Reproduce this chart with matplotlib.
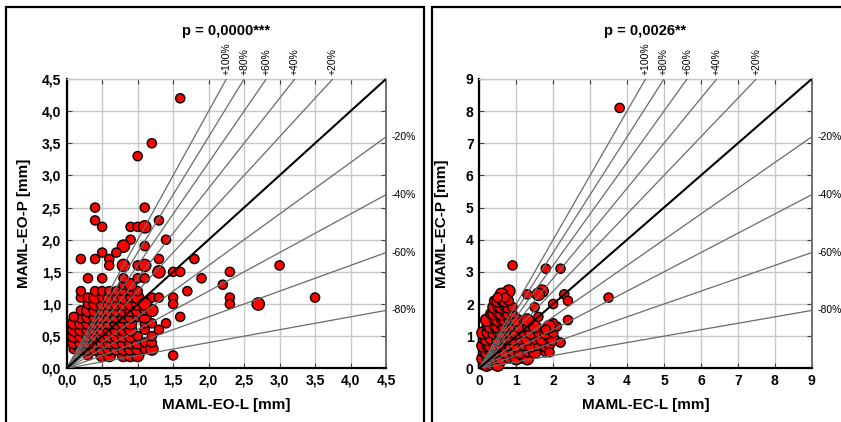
import matplotlib
matplotlib.use("Agg")
import matplotlib.pyplot as plt
from matplotlib.patches import Rectangle

plt.rcParams['font.family'] = ['Liberation Sans', 'DejaVu Sans']

# ---------------- data ----------------
eo_titles = "p = 0,0000***"
ec_titles = "p = 0,0026**"
eo_xlabel = "MAML-EO-L [mm]"
eo_ylabel = "MAML-EO-P [mm]"
ec_xlabel = "MAML-EC-L [mm]"
ec_ylabel = "MAML-EC-P [mm]"

eo_ticks = [0.0, 0.5, 1.0, 1.5, 2.0, 2.5, 3.0, 3.5, 4.0, 4.5]
eo_ticklabels = ["0,0", "0,5", "1,0", "1,5", "2,0", "2,5", "3,0", "3,5", "4,0", "4,5"]
ec_ticks = [0, 1, 2, 3, 4, 5, 6, 7, 8, 9]
ec_ticklabels = ["0", "1", "2", "3", "4", "5", "6", "7", "8", "9"]

pos_pct = [100, 80, 60, 40, 20]
neg_pct = [20, 40, 60, 80]

# EO panel: sparse points (x, y, big flag)
eo_x = [1.6, 1.0, 1.2, 0.4, 0.4, 0.5, 1.1, 1.3, 0.9, 1.0, 1.1, 0.9, 1.4, 0.8, 1.1,
        0.2, 0.4, 0.6, 1.3, 1.8, 0.5, 0.7, 0.6, 0.8, 1.0, 1.1, 0.3, 0.5, 0.8, 1.0,
        1.1, 1.3, 1.5, 1.6, 1.9, 2.3, 3.0, 2.2, 2.3, 2.3, 2.7, 3.5, 1.5, 1.5, 1.7,
        1.6, 1.4, 1.5, 1.3, 1.2, 1.2, 1.2, 1.2, 1.3, 1.1, 0.1]
eo_y = [4.2, 3.3, 3.5, 2.5, 2.3, 2.2, 2.5, 2.3, 2.2, 2.2, 2.2, 2.0, 2.0, 1.9, 1.9,
        1.7, 1.7, 1.7, 1.7, 1.7, 1.8, 1.8, 1.6, 1.6, 1.6, 1.6, 1.4, 1.4, 1.4, 1.4,
        1.4, 1.5, 1.5, 1.5, 1.4, 1.5, 1.6, 1.3, 1.1, 1.0, 1.0, 1.1, 1.1, 1.0, 1.2,
        0.8, 0.7, 0.2, 0.6, 0.3, 0.4, 0.5, 0.9, 1.1, 1.0, 0.8]
eo_big = [0, 0, 0, 0, 0, 0, 0, 0, 0, 0, 1, 0, 0, 1, 0,
          0, 0, 0, 0, 0, 0, 0, 0, 1, 0, 1, 0, 0, 0, 0,
          0, 1, 0, 0, 0, 0, 0, 0, 0, 0, 1, 0, 0, 0, 0,
          0, 0, 0, 0, 1, 0, 0, 1, 0, 1, 0]

# EO panel: dense cluster, x values per row of y
eo_cluster_y = [0.2, 0.3, 0.4, 0.5, 0.6, 0.7, 0.8, 0.9, 1.0, 1.1, 1.2, 1.3]
eo_cluster_x = [
    [0.3, 0.5, 0.6, 0.8, 0.9, 1.0],
    [0.1, 0.2, 0.3, 0.4, 0.5, 0.6, 0.7, 0.8, 0.9, 1.0, 1.1],
    [0.1, 0.2, 0.3, 0.4, 0.5, 0.6, 0.7, 0.8, 0.9, 1.0, 1.1],
    [0.1, 0.2, 0.3, 0.4, 0.5, 0.6, 0.7, 0.8, 0.9, 1.0],
    [0.1, 0.2, 0.3, 0.4, 0.5, 0.6, 0.7, 0.8, 0.9, 1.1],
    [0.1, 0.2, 0.3, 0.4, 0.5, 0.6, 0.7, 0.8, 0.9, 1.1, 1.2],
    [0.2, 0.3, 0.4, 0.5, 0.6, 0.7, 0.8, 0.9, 1.0, 1.1],
    [0.2, 0.3, 0.4, 0.5, 0.6, 0.7, 0.8, 0.9, 1.0, 1.1],
    [0.3, 0.4, 0.5, 0.6, 0.7, 0.8, 0.9, 1.0],
    [0.2, 0.3, 0.4, 0.5, 0.6, 0.7, 0.8, 0.9, 1.0, 1.2],
    [0.2, 0.4, 0.5, 0.6, 0.7, 0.8, 0.9, 1.0],
    [0.8, 0.9],
]
eo_cluster_big = [
    [0, 1, 1, 1, 1, 1],
    [0, 1, 1, 1, 1, 1, 1, 1, 1, 1, 0],
    [1, 1, 1, 1, 1, 1, 1, 1, 1, 1, 0],
    [1, 1, 1, 1, 1, 1, 1, 1, 1, 0],
    [1, 1, 1, 1, 1, 1, 1, 1, 1, 0],
    [1, 1, 1, 1, 1, 1, 1, 1, 1, 0, 0],
    [1, 1, 1, 1, 1, 1, 1, 1, 0, 1],
    [0, 1, 1, 1, 1, 1, 1, 1, 1, 0],
    [0, 1, 1, 1, 1, 1, 1, 1],
    [0, 0, 1, 0, 1, 0, 1, 0, 1, 0],
    [0, 0, 0, 0, 0, 0, 0, 0],
    [0, 1],
]

# EC panel: sparse points
ec_x = [3.8, 0.9, 1.8, 2.2, 3.5, 2.3, 2.4, 2.0, 2.4, 2.2, 1.9, 1.7, 1.6, 1.3, 1.5,
        0.8, 0.6, 0.7, 0.5, 2.1, 2.0, 1.9, 1.8, 1.6]
ec_y = [8.1, 3.2, 3.1, 3.1, 2.2, 2.3, 2.1, 2.0, 1.5, 0.8, 0.5, 2.4, 2.3, 2.3, 1.9,
        2.4, 2.3, 2.2, 2.2, 1.3, 1.4, 1.3, 1.2, 1.6]
ec_big = [0, 0, 0, 0, 0, 0, 0, 0, 0, 0, 0, 1, 1, 0, 0,
          1, 1, 0, 0, 0, 0, 1, 0, 0]

# EC panel: dense cluster, x values per row of y
ec_cluster_y = [0.1, 0.3, 0.5, 0.7, 0.9, 1.1, 1.3, 1.5, 1.7, 1.9, 2.1]
ec_cluster_x = [
    [0.1, 0.2, 0.3, 0.5],
    [0.1, 0.2, 0.3, 0.4, 0.6, 0.8, 1.0, 1.2, 1.3],
    [0.1, 0.2, 0.3, 0.4, 0.5, 0.7, 0.9, 1.1, 1.3, 1.5, 1.8],
    [0.1, 0.2, 0.3, 0.4, 0.6, 0.8, 1.0, 1.2, 1.4, 1.6, 1.8, 1.9],
    [0.1, 0.2, 0.3, 0.5, 0.7, 0.9, 1.1, 1.3, 1.5, 1.7, 1.9, 2.0],
    [0.1, 0.2, 0.4, 0.5, 0.6, 0.8, 1.0, 1.2, 1.4, 1.6, 1.8, 2.0],
    [0.2, 0.3, 0.4, 0.5, 0.6, 0.7, 0.9, 1.1, 1.3, 1.5],
    [0.2, 0.4, 0.5, 0.6, 0.7, 0.8, 1.0, 1.2, 1.3],
    [0.3, 0.4, 0.5, 0.6, 0.7, 0.8, 0.9],
    [0.4, 0.5, 0.6, 0.7, 0.8, 0.9],
    [0.4, 0.5, 0.6, 0.7, 0.8],
]

# ---------------- figure ----------------
fig = plt.figure(figsize=(8.41, 4.22), dpi=100)
W, H = 841.0, 422.0


def fx(px):
    return px / W


def fy(py):
    return 1 - py / H


# panel frames
fig.patches.append(Rectangle((fx(6), fy(430)), fx(424) - fx(6), fy(7) - fy(430),
                             transform=fig.transFigure, fill=False, ec='black', lw=1.6))
fig.patches.append(Rectangle((fx(432), fy(430)), fx(850) - fx(432), fy(7) - fy(430),
                             transform=fig.transFigure, fill=False, ec='black', lw=1.6))

ax1 = fig.add_axes([fx(66.7), fy(368.3), fx(386) - fx(66.7), fy(79) - fy(368.3)])
ax2 = fig.add_axes([fx(479.3), fy(368.3), fx(811.7) - fx(479.3), fy(79) - fy(368.3)])

S_SMALL, S_BIG = 44, 78


def style_axes(ax, lim, ticks, labels, xlabel, ylabel, ylabelpad):
    ax.set_xlim(0, lim)
    ax.set_ylim(0, lim)
    ax.set_xticks(ticks)
    ax.set_yticks(ticks)
    ax.set_xticklabels(labels, fontsize=10, fontweight='bold')
    ax.set_yticklabels(labels, fontsize=10, fontweight='bold')
    ax.grid(True, color='#c8c8c8', lw=1.0, zorder=0)
    ax.set_axisbelow(True)
    ax.tick_params(direction='in', length=3.5, width=0.8, top=True, right=True,
                   pad=4, colors='black')
    ax.tick_params(axis='both', which='both', color='#404040')
    for s in ['left', 'bottom']:
        ax.spines[s].set_color('black')
        ax.spines[s].set_linewidth(1.6)
    ax.spines['right'].set_color('#707070')
    ax.spines['right'].set_linewidth(1.4)
    ax.spines['top'].set_color('#c8c8c8')
    ax.spines['top'].set_linewidth(1.0)
    ax.set_xlabel(xlabel, fontsize=11, fontweight='bold', labelpad=7)
    ax.set_ylabel(ylabel, fontsize=11, fontweight='bold', labelpad=ylabelpad)


def ref_lines(ax, lim):
    ax.plot([0, lim], [0, lim], color='black', lw=1.5, zorder=5)
    for p in pos_pct:
        k = 1 + p / 100.0
        xe = lim / k
        ax.plot([0, xe], [0, lim], color='#6a6a6a', lw=0.9, zorder=4)
        ax.annotate("+%d%%" % p, xy=(xe, lim), xytext=(0, 3), textcoords='offset points',
                    rotation=90, ha='center', va='bottom', fontsize=7.5,
                    annotation_clip=False)
    for p in neg_pct:
        k = 1 - p / 100.0
        ye = lim * k
        ax.plot([0, lim], [0, ye], color='#6a6a6a', lw=0.9, zorder=4)
        ax.annotate("-%d%%" % p, xy=(lim, ye), xytext=(4, 0), textcoords='offset points',
                    ha='left', va='center', fontsize=7.5, annotation_clip=False)


def draw_points(ax, xs, ys, bigs):
    sizes = [S_BIG if b else S_SMALL for b in bigs]
    ax.scatter(xs, ys, s=sizes, c='#ff0000', edgecolors='black', linewidths=1.0,
               zorder=3, clip_on=False)


# EO panel
cx, cy, cb = [], [], []
for yv, xr, br in zip(eo_cluster_y, eo_cluster_x, eo_cluster_big):
    for xv, bv in zip(xr, br):
        cx.append(xv)
        cy.append(yv)
        cb.append(bv)
draw_points(ax1, cx, cy, cb)
draw_points(ax1, eo_x, eo_y, eo_big)
style_axes(ax1, 4.5, eo_ticks, eo_ticklabels, eo_xlabel, eo_ylabel, 8)
ref_lines(ax1, 4.5)

# EC panel
dx, dy, db = [], [], []
for i, (yv, xr) in enumerate(zip(ec_cluster_y, ec_cluster_x)):
    for j, xv in enumerate(xr):
        dx.append(xv)
        dy.append(yv)
        db.append((i + j) % 2)
draw_points(ax2, dx, dy, db)
draw_points(ax2, ec_x, ec_y, ec_big)
style_axes(ax2, 9, ec_ticks, ec_ticklabels, ec_xlabel, ec_ylabel, 12)
ref_lines(ax2, 9)

fig.text((fx(66.7) + fx(386)) / 2, fy(31), eo_titles, ha='center', va='center',
         fontsize=10.5, fontweight='bold')
fig.text((fx(479.3) + fx(811.7)) / 2, fy(31), ec_titles, ha='center', va='center',
         fontsize=10.5, fontweight='bold')

fig.savefig("out.png", dpi=100)
